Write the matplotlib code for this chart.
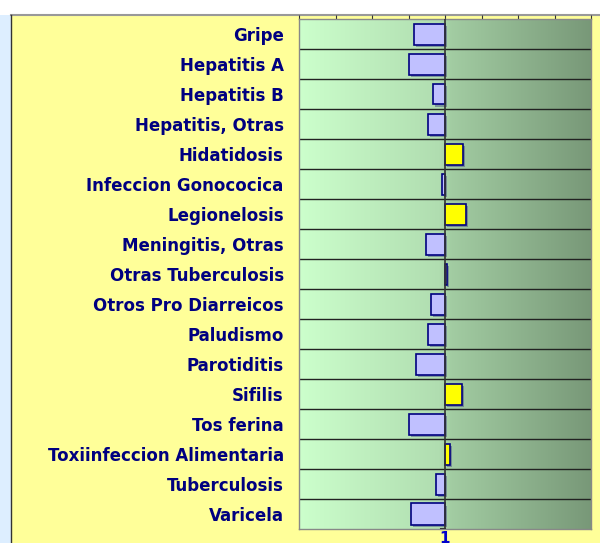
import numpy as np
import matplotlib
matplotlib.use("Agg")
import matplotlib.pyplot as plt
import matplotlib.patheffects as pe
from matplotlib.colors import LinearSegmentedColormap
from matplotlib.patches import Rectangle

diseases = ["Gripe", "Hepatitis A", "Hepatitis B", "Hepatitis, Otras", "Hidatidosis",
            "Infeccion Gonococica", "Legionelosis", "Meningitis, Otras",
            "Otras Tuberculosis", "Otros Pro Diarreicos", "Paludismo", "Parotiditis",
            "Sifilis", "Tos ferina", "Toxiinfeccion Alimentaria", "Tuberculosis", "Varicela"]
ratios = [0.55, 0.50, 0.80, 0.72, 1.40, 0.95, 1.48, 0.70, 1.045, 0.77, 0.72, 0.58,
          1.37, 0.50, 1.10, 0.84, 0.52]

fig = plt.figure(figsize=(6, 5.43), dpi=100)
fig.patch.set_facecolor("white")

# background panels (behind the axes)
fig.add_artist(Rectangle((0, 0), 11/600, 1 - 15/543, transform=fig.transFigure,
                         facecolor="#DDEEFF", edgecolor="none", zorder=-10))
fig.add_artist(Rectangle((11/600, 0), 1, 1 - 15/543, transform=fig.transFigure,
                         facecolor="#FFFF99", edgecolor="none", zorder=-10))
fig.add_artist(plt.Line2D([11/600, 1], [1 - 15/543] * 2, transform=fig.transFigure,
                          color="#999999", lw=1.5, zorder=-9))
fig.add_artist(plt.Line2D([11/600, 11/600], [0, 1 - 15/543], transform=fig.transFigure,
                          color="#333333", lw=1, zorder=-9))

ax = fig.add_axes([299/600, 1 - 529/543, 292/600, 510/543])
ax.set_xscale("log", base=2)
ax.set_xlim(2**-4, 2**4)
n = len(diseases)
ax.set_ylim(n, 0)

# green gradient, drawn in axes coordinates so the log scale does not warp it
cmap = LinearSegmentedColormap.from_list("g", [(0, "#CCFFCC"), (0.48, "#B0DDB0"),
                                               (0.52, "#A2CCA2"), (1, "#789878")])
grad = np.linspace(0, 1, 256).reshape(1, -1)
ax.imshow(grad, cmap=cmap, aspect="auto", extent=(0, 1, 0, 1),
          transform=ax.transAxes, zorder=0)

for i in range(1, n):
    ax.axhline(i, color="#222222", lw=1, zorder=1)
ax.axvline(1, color="#333333", lw=1.2, zorder=3)

y = np.arange(n) + 0.5
colors = ["#FFFF00" if r > 1 else "#C0C0FF" for r in ratios]
bars = ax.barh(y, [r - 1 for r in ratios], left=1, height=0.7, color=colors,
               edgecolor="#000080", lw=1.2, zorder=2)
for b in bars:
    b.set_path_effects([pe.SimplePatchShadow(offset=(1.5, -1.5), shadow_rgbFace="#404080",
                                             alpha=0.45), pe.Normal()])

ax.set_yticks(y)
ax.set_yticklabels(diseases, fontsize=12, fontweight="bold", color="#000080",
                   family="DejaVu Sans")
ax.tick_params(axis="y", length=0, pad=11)

ax.set_xticks([2.0**k for k in range(-4, 5)])
ax.set_xticklabels([])
ax.tick_params(axis="x", which="major", top=True, bottom=False, direction="out", length=3,
               color="#333333")
ax.tick_params(axis="x", which="minor", top=False, bottom=False)
ax.text(1, -0.004, "1", transform=ax.get_xaxis_transform(), ha="center", va="top",
        fontsize=11, fontweight="bold", color="#0000CC", family="DejaVu Sans")
ax.plot([0.92, 1], [0, 0], transform=ax.get_xaxis_transform(), color="#222222", lw=1.5,
        clip_on=False)

for s in ax.spines.values():
    s.set_color("#888888")
    s.set_linewidth(1)

fig.savefig("out.png", dpi=100, facecolor=fig.get_facecolor())
